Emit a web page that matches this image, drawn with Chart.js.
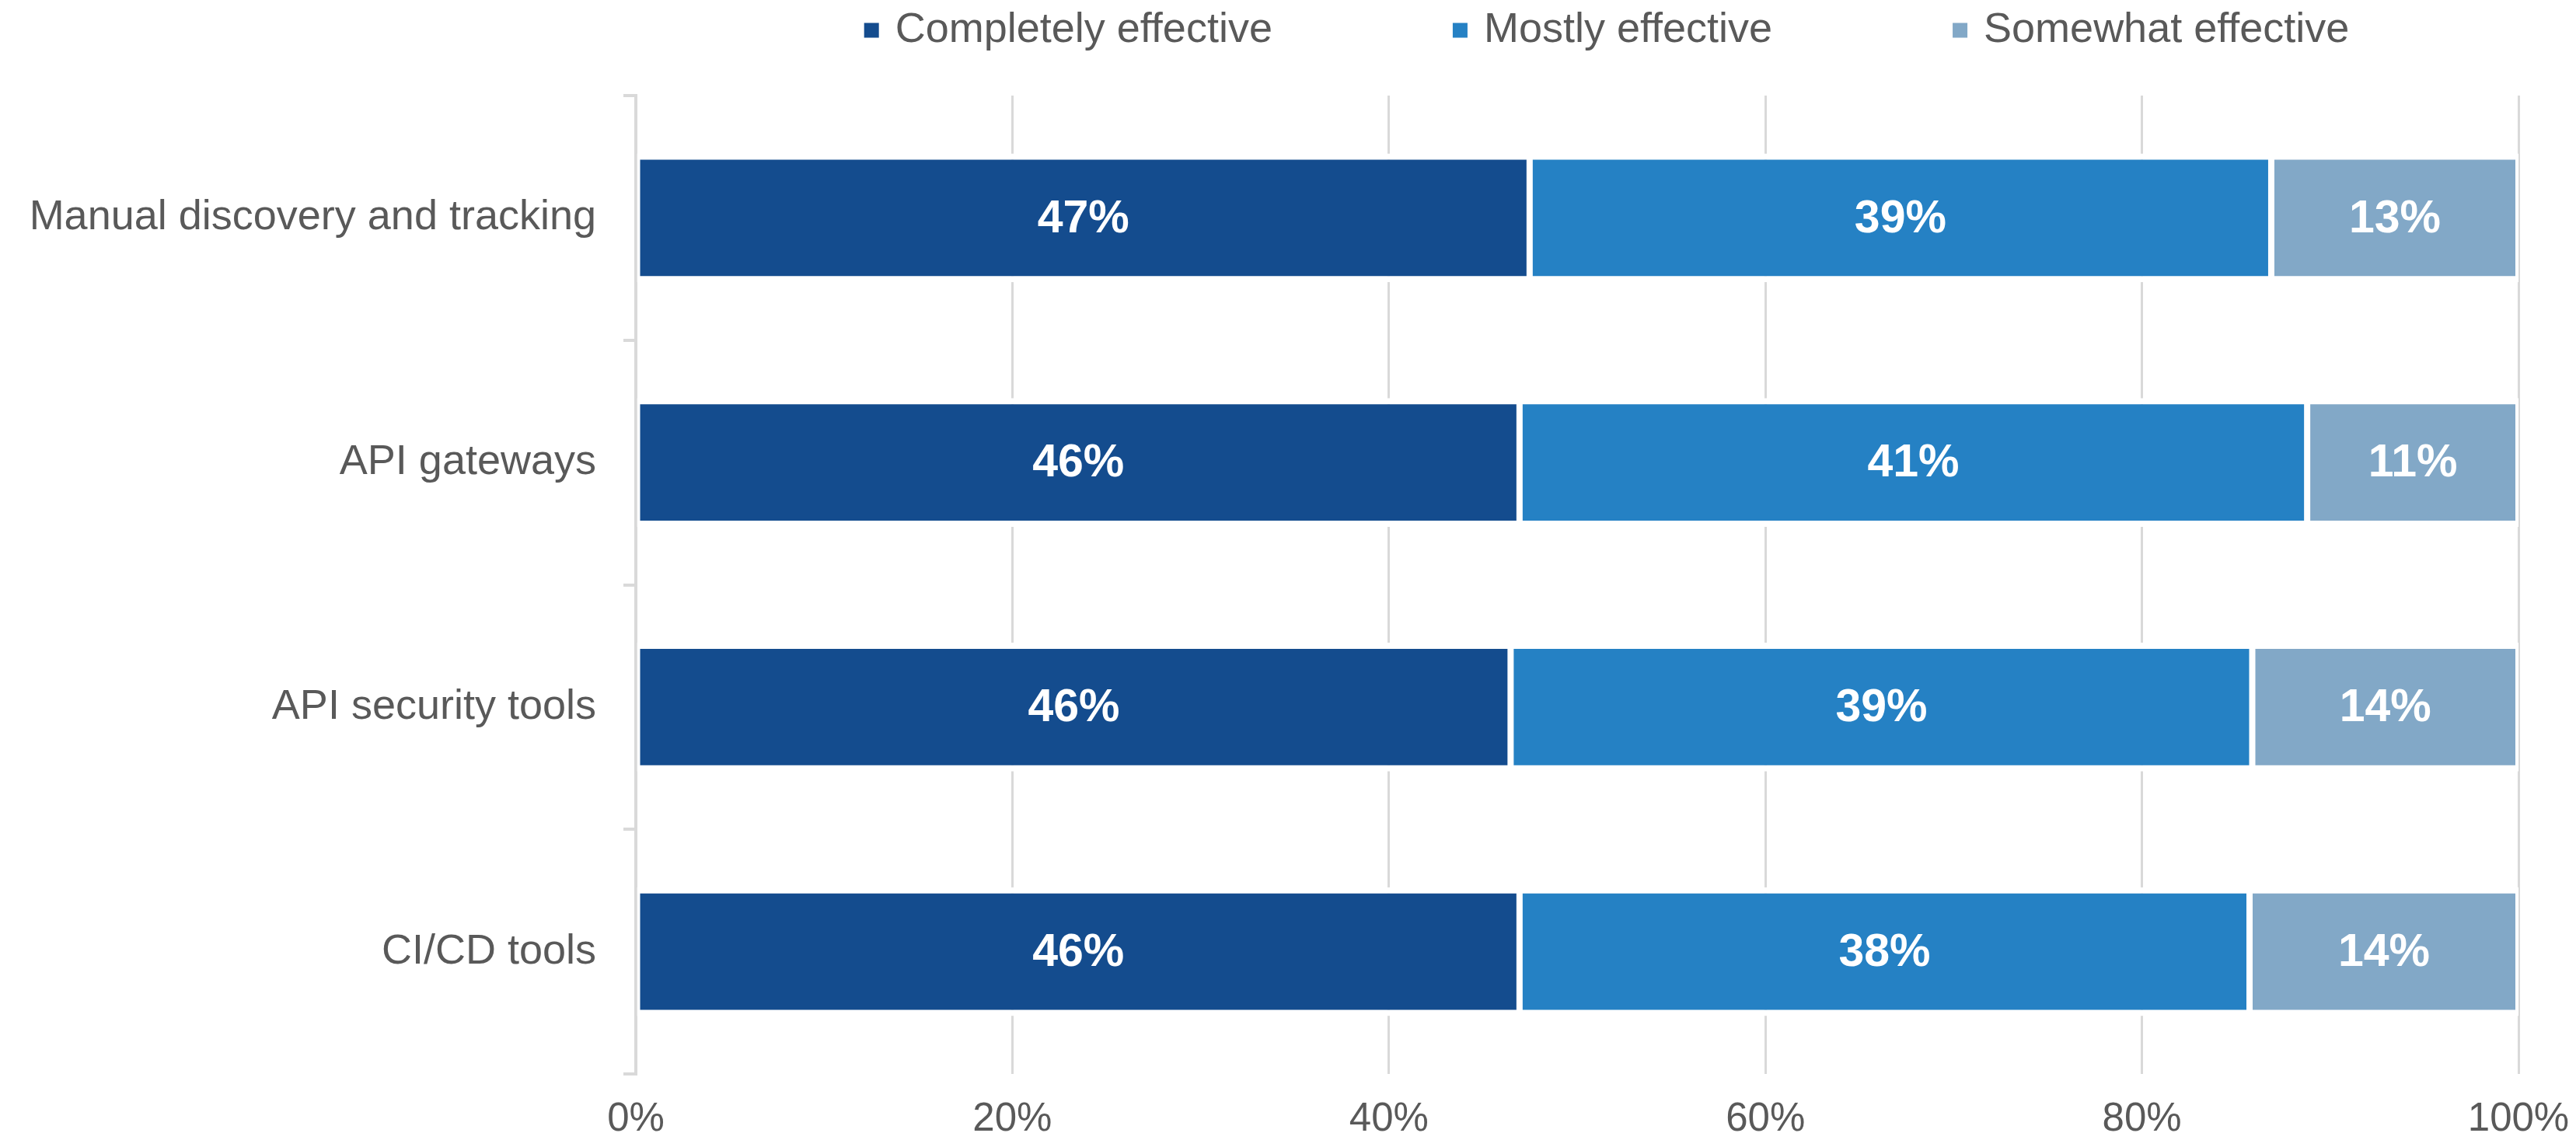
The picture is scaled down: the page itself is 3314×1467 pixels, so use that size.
<!DOCTYPE html>
<html lang="en">
<head>
<meta charset="UTF-8">
<title>API discovery effectiveness</title>
<script src="https://cdn.jsdelivr.net/npm/chart.js@4.4.1/dist/chart.umd.min.js"></script>
<style>
    html, body { margin: 0; padding: 0; background: #ffffff; }
    #chart-wrap { position: relative; width: 3314px; height: 1467px; }
</style>
</head>
<body>
<div id="chart-wrap">
    <canvas id="effectiveness-chart"></canvas>
</div>
<script>
// Datos del gráfico (porcentajes tal como aparecen en las etiquetas)
const categories = ['Manual discovery and tracking', 'API gateways', 'API security tools', 'CI/CD tools'];
const seriesNames = ['Completely effective', 'Mostly effective', 'Somewhat effective'];
const completelyEffective = [47, 46, 46, 46];
const mostlyEffective = [39, 41, 39, 38];
const somewhatEffective = [13, 11, 14, 14];
const tickValues = [0, 20, 40, 60, 80, 100];

// Estilos
const COLORS = ['#144c8e', '#2581c4', '#82a8c7'];
const TEXT_COLOR = '#595959';
const GRID_COLOR = '#d9d9d9';
const FONT_FAMILY = "'Liberation Sans', Arial, sans-serif";

const EffectivenessChart = {
    chart: null,

    // Barras apiladas al 100%: cada fila se reparte sobre su propio total
    toShares: function(series) {
        const all = [completelyEffective, mostlyEffective, somewhatEffective];
        return series.map((value, i) => {
            const total = all.reduce((sum, s) => sum + s[i], 0);
            return value / total * 100;
        });
    },

    // Etiquetas blancas en el centro de cada segmento
    valueLabels: {
        id: 'valueLabels',
        afterDatasetsDraw: function(chart) {
            const ctx = chart.ctx;
            ctx.save();
            ctx.font = 'bold 59px ' + FONT_FAMILY;
            ctx.fillStyle = '#ffffff';
            ctx.textAlign = 'center';
            ctx.textBaseline = 'middle';
            chart.data.datasets.forEach((dataset, d) => {
                const meta = chart.getDatasetMeta(d);
                meta.data.forEach((bar, i) => {
                    const center = bar.getCenterPoint();
                    ctx.fillText(dataset.rawValues[i] + '%', center.x, center.y + 2);
                });
            });
            ctx.restore();
        }
    },

    // Leyenda superior con cuadrados pequeños
    topLegend: {
        id: 'topLegend',
        afterDraw: function(chart) {
            const ctx = chart.ctx;
            const box = 19;
            const boxGap = 21;
            const itemGap = 232;
            ctx.save();
            ctx.font = '54px ' + FONT_FAMILY;
            ctx.textBaseline = 'middle';
            ctx.textAlign = 'left';
            const widths = chart.data.datasets.map(ds => box + boxGap + ctx.measureText(ds.label).width);
            const total = widths.reduce((a, b) => a + b, 0) + itemGap * (widths.length - 1);
            const area = chart.chartArea;
            let x = (area.left + area.right) / 2 - total / 2 + 38;
            const y = 39;
            chart.data.datasets.forEach((ds, i) => {
                ctx.fillStyle = ds.backgroundColor;
                ctx.fillRect(x, y - box / 2, box, box);
                ctx.fillStyle = TEXT_COLOR;
                ctx.fillText(ds.label, x + box + boxGap, y);
                x += widths[i] + itemGap;
            });
            ctx.restore();
        }
    },

    init: function() {
        const ctx = document.getElementById('effectiveness-chart');
        if (!ctx) return;

        Chart.defaults.font.family = FONT_FAMILY;
        Chart.defaults.color = TEXT_COLOR;

        const seriesValues = [completelyEffective, mostlyEffective, somewhatEffective];
        const datasets = seriesValues.map((values, i) => ({
            label: seriesNames[i],
            data: this.toShares(values),
            rawValues: values,
            backgroundColor: COLORS[i],
            borderColor: '#ffffff',
            borderWidth: { top: 8, bottom: 8, left: 4, right: 4 },
            borderSkipped: false,
            barPercentage: 0.527,
            categoryPercentage: 1
        }));

        this.chart = new Chart(ctx, {
            type: 'bar',
            data: {
                labels: categories,
                datasets: datasets
            },
            options: {
                indexAxis: 'y',
                responsive: true,
                maintainAspectRatio: false,
                animation: false,
                devicePixelRatio: 1,
                layout: {
                    padding: { top: 123, left: 32, right: 74, bottom: 2 }
                },
                plugins: {
                    legend: { display: false },
                    tooltip: { enabled: false }
                },
                scales: {
                    x: {
                        stacked: true,
                        min: 0,
                        max: 100,
                        afterBuildTicks: axis => {
                            axis.ticks = tickValues.map(v => ({ value: v }));
                        },
                        afterFit: axis => {
                            axis.height = 83;
                            axis.paddingLeft = 0;
                            axis.paddingRight = 0;
                        },
                        ticks: {
                            callback: value => value + '%',
                            color: TEXT_COLOR,
                            font: { size: 51, lineHeight: 1 },
                            padding: 33,
                            maxRotation: 0
                        },
                        grid: {
                            color: GRID_COLOR,
                            lineWidth: 3,
                            drawTicks: false
                        },
                        border: { display: false }
                    },
                    y: {
                        stacked: true,
                        z: 1,
                        afterFit: axis => {
                            axis.width = 786;
                        },
                        ticks: {
                            color: TEXT_COLOR,
                            font: { size: 54 },
                            padding: 35
                        },
                        grid: {
                            drawOnChartArea: false,
                            drawTicks: true,
                            tickLength: 16,
                            color: GRID_COLOR,
                            lineWidth: 4
                        },
                        border: {
                            display: true,
                            color: GRID_COLOR,
                            width: 4
                        }
                    }
                }
            },
            plugins: [this.valueLabels, this.topLegend]
        });
    }
};

document.addEventListener('DOMContentLoaded', () => {
    EffectivenessChart.init();
});
</script>
</body>
</html>
